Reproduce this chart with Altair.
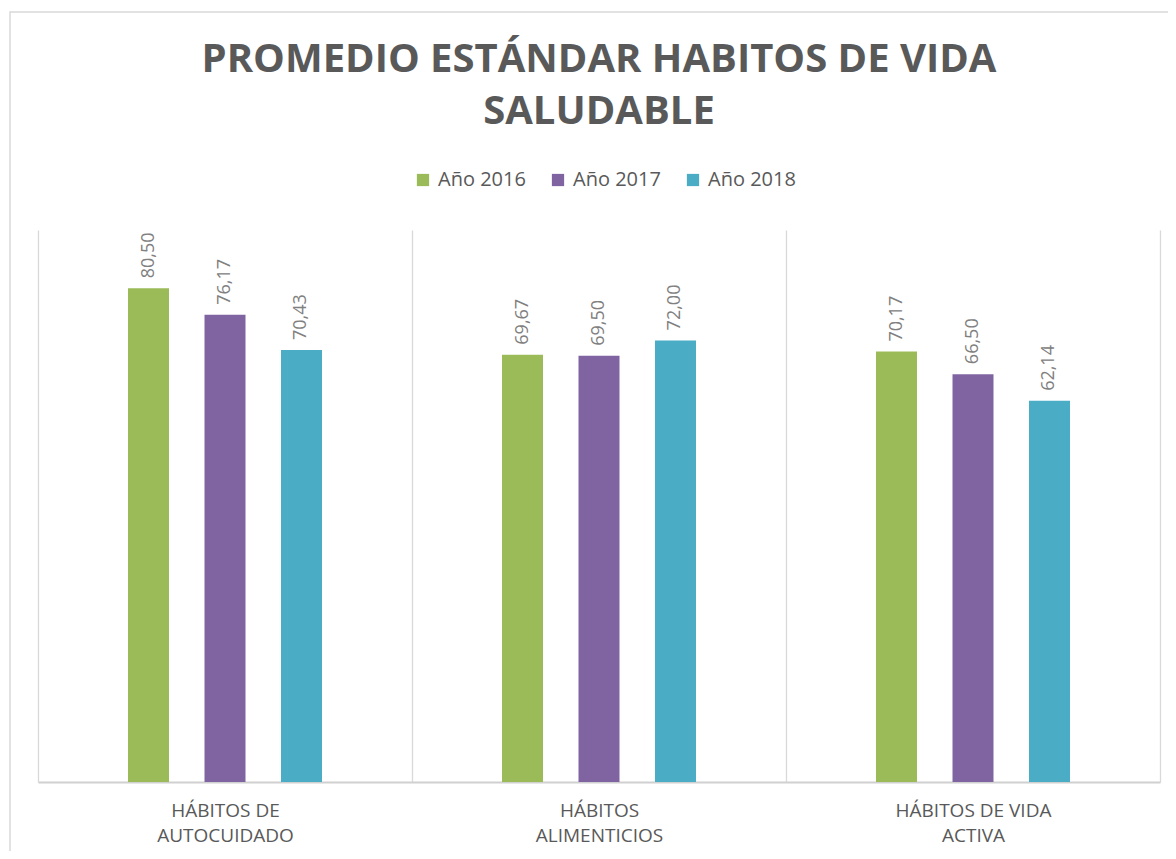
import altair as alt
import pandas as pd

categories = ["HÁBITOS DE|AUTOCUIDADO", "HÁBITOS|ALIMENTICIOS", "HÁBITOS DE VIDA|ACTIVA"]
years = ["Año 2016", "Año 2017", "Año 2018"]
values_2016 = [80.50, 69.67, 70.17]
values_2017 = [76.17, 69.50, 66.50]
values_2018 = [70.43, 72.00, 62.14]
colors = ["#9BBB59", "#8064A2", "#4BACC6"]

rows = []
for i, cat in enumerate(categories):
    for year, vals in zip(years, [values_2016, values_2017, values_2018]):
        v = vals[i]
        rows.append({"categoria": cat, "anio": year, "valor": v,
                     "etiqueta": f"{v:.2f}".replace(".", ",")})
df = pd.DataFrame(rows)

FONT = "Open Sans"
GRAY = "#595959"

base = alt.Chart(df).encode(
    x=alt.X("categoria:N", sort=categories,
            scale=alt.Scale(paddingInner=0, paddingOuter=0),
            axis=alt.Axis(title=None, labelAngle=0, ticks=False, grid=True,
                          tickBand="extent", gridColor="#d9d9d9", gridWidth=1.3,
                          domainColor="#d0d0d0", domainWidth=2,
                          labelExpr="split(datum.label, '|')",
                          labelFont=FONT, labelFontSize=19, labelColor=GRAY,
                          labelPadding=19, labelLineHeight=25, labelBaseline="top")),
    xOffset=alt.XOffset("anio:N", sort=years,
                        scale=alt.Scale(paddingInner=0.111, paddingOuter=1)),
    y=alt.Y("valor:Q", scale=alt.Scale(domain=[0, 90], nice=False, zero=True), axis=None),
)

bars = base.mark_bar(width=41).encode(
    color=alt.Color("anio:N", sort=years,
                    scale=alt.Scale(domain=years, range=colors),
                    legend=alt.Legend(title=None, orient="none", direction="horizontal",
                                      legendX=375, legendY=-60,
                                      symbolType="square", symbolSize=150,
                                      symbolStrokeWidth=0, labelFont=FONT,
                                      labelFontSize=20, labelColor=GRAY,
                                      labelOffset=5, columnPadding=22))
)

labels = base.mark_text(angle=270, align="left", baseline="middle", dx=10,
                        font=FONT, fontSize=18, color="#808080").encode(
    text="etiqueta:N"
)

border = alt.Chart(alt.Data(values=[{}])).mark_rect(
    fillOpacity=0, stroke="#d9d9d9", strokeWidth=1.5
).encode(
    x=alt.value(-28), x2=alt.value(1300), y=alt.value(-218), y2=alt.value(900)
)

chart = alt.layer(border, bars, labels).properties(
    width=1122, height=552,
    autosize=alt.AutoSizeParams(type="none"),
    padding={"left": 30, "top": 222, "right": 8, "bottom": 69},
    title=alt.TitleParams(
        text=["PROMEDIO ESTÁNDAR HABITOS DE VIDA", "SALUDABLE"],
        anchor="middle", frame="group", font=FONT, fontSize=40,
        fontWeight="bold", color=GRAY, lineHeight=52, offset=0, dy=121,
    ),
).configure_view(strokeWidth=0)

chart.save("out.html", embed_options={"renderer": "svg", "actions": False})
